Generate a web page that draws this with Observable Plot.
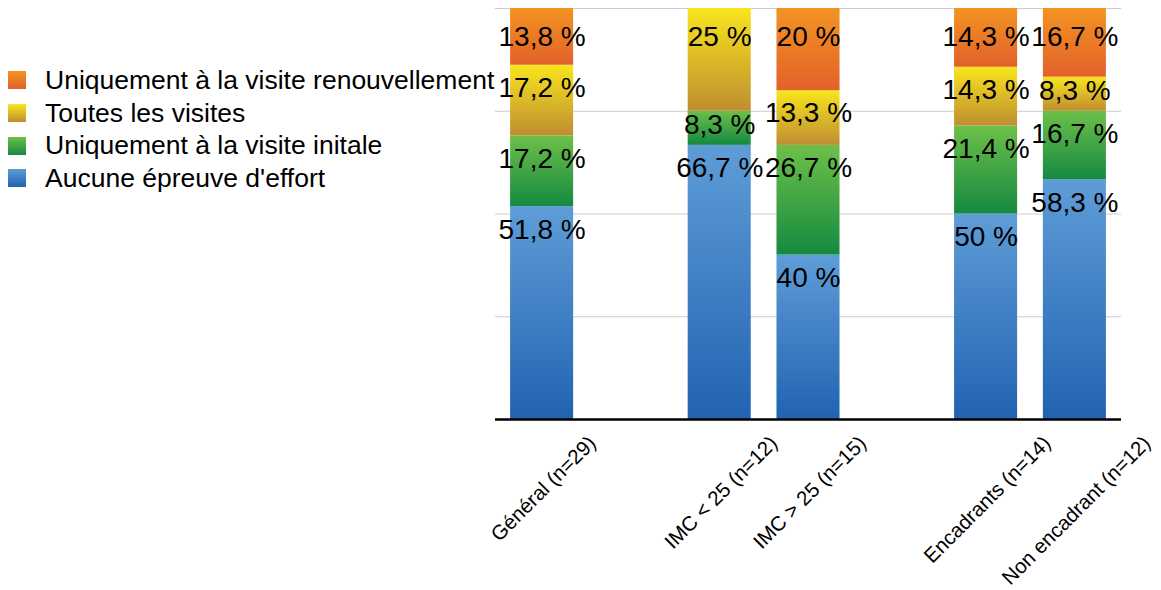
<!DOCTYPE html>
<html lang="fr">
<head>
<meta charset="utf-8">
<script src="https://cdn.jsdelivr.net/npm/d3@7"></script>
<script src="https://cdn.jsdelivr.net/npm/@observablehq/plot@0.6"></script>
<style>
  body { margin: 0; background: #fff; font-family: "Liberation Sans", Arial, Helvetica, sans-serif; }
  #chart { position: relative; width: 1161px; height: 590px; }
  #chart svg { position: absolute; left: 0; top: 0; }
  #legend { position: absolute; left: 8px; top: 64px; }
  .row { display: flex; align-items: center; height: 32.7px; font-size: 26.5px; color: #000; white-space: nowrap; }
  .sw { width: 18px; height: 18px; margin-right: 19px; flex: none; }
</style>
</head>
<body>
<div id="chart"><div id="legend"></div></div>
<script>
// Groups shown under the bars, and the band slots (two empty slots separate the comparisons)
const groups = ["Général (n=29)", "IMC < 25 (n=12)", "IMC > 25 (n=15)", "Encadrants (n=14)", "Non encadrant (n=12)"];
const slots = ["Général (n=29)", "·1", "IMC < 25 (n=12)", "IMC > 25 (n=15)", "·2", "Encadrants (n=14)", "Non encadrant (n=12)"];

// Series, stacked from bottom to top
const series = ["Aucune épreuve d'effort", "Uniquement à la visite initale", "Toutes les visites", "Uniquement à la visite renouvellement"];

// Percentages per group, one array per series
const aucune = [51.8, 66.7, 40, 50, 58.3];
const initiale = [17.2, 8.3, 26.7, 21.4, 16.7];
const toutes = [17.2, 25, 13.3, 14.3, 8.3];
const renouvellement = [13.8, 0, 20, 14.3, 16.7];

// Vertical gradient (top, bottom) for each series
const gradientTops = ["#5e9dd7", "#6dc049", "#f8e51d", "#f39422"];
const gradientBottoms = ["#2163b1", "#158941", "#bf8e31", "#e2612a"];

const seriesValues = [aucune, initiale, toutes, renouvellement];
const rows = [];
groups.forEach((g, gi) => {
  series.forEach((s, si) => rows.push({group: g, series: s, value: seriesValues[si][gi]}));
});

// Value labels sit near the top of each segment
const labelRows = [];
groups.forEach((g, gi) => {
  let top = 0;
  series.forEach((s, si) => {
    const v = seriesValues[si][gi];
    top += v;
    if (v <= 0) return;
    const off = top >= 99.9 ? 7 : Math.min(5.6, v * 0.4);
    labelRows.push({group: g, y: top - off, text: `${String(v).replace(".", ",")} %`});
  });
});

const gradIds = series.map((_, i) => `seg-grad-${i}`);

function gradientDefs() {
  const defs = d3.create("svg:defs");
  gradIds.forEach((id, i) => {
    const lg = defs.append("linearGradient").attr("id", id).attr("x1", 0).attr("y1", 0).attr("x2", 0).attr("y2", 1);
    lg.append("stop").attr("offset", "0%").attr("stop-color", gradientTops[i]);
    lg.append("stop").attr("offset", "100%").attr("stop-color", gradientBottoms[i]);
  });
  return defs.node();
}

// Width of a rotated tick label, to centre it under its bar
const tickFont = 20.5;
const measureCtx = document.createElement("canvas").getContext("2d");
measureCtx.font = `${tickFont}px 'Liberation Sans', Arial, sans-serif`;

const chart = Plot.plot({
  width: 1161,
  height: 590,
  marginLeft: 495,
  marginRight: 40,
  marginTop: 8,
  marginBottom: 171,
  style: {fontFamily: "'Liberation Sans', Arial, Helvetica, sans-serif", background: "transparent"},
  x: {domain: slots, paddingInner: 0.29, paddingOuter: 0.17, round: false, axis: null},
  y: {domain: [0, 100], axis: null},
  color: {type: "ordinal", domain: series, range: gradIds.map((id) => `url(#${id})`)},
  marks: [
    gradientDefs,
    Plot.ruleY([25, 50, 75, 100], {stroke: "#cccccc", strokeWidth: 1}),
    Plot.barY(rows, Plot.stackY({x: "group", y: "value", fill: "series", order: series})),
    Plot.ruleY([0], {stroke: "#000", strokeWidth: 2.5}),
    Plot.text(labelRows, {x: "group", y: "y", text: "text", fontSize: 28, fill: "#000"}),
    Plot.text(groups, {
      x: (d) => d,
      text: (d) => d,
      frameAnchor: "bottom",
      dy: 25,
      rotate: -45,
      textAnchor: "end",
      lineAnchor: "bottom",
      fontSize: tickFont,
      fill: "#000",
      render(index, scales, values, dimensions, context, next) {
        const g = next(index, scales, values, dimensions, context);
        g.querySelectorAll("text").forEach((t, k) => {
          const label = groups[index[k]];
          const shift = measureCtx.measureText(label).width * Math.SQRT1_2 / 2 + 6;
          const tr = t.getAttribute("transform") || "";
          t.setAttribute("transform", tr.replace(/translate\(([^,]+),([^)]+)\)/, (m, x, y) => `translate(${+x + shift},${y})`));
        });
        return g;
      }
    })
  ]
});

const host = document.getElementById("chart");
host.insertBefore(chart, host.firstChild);

// Legend, top series first
const legend = d3.select("#legend");
series.slice().reverse().forEach((s) => {
  const i = series.indexOf(s);
  const row = legend.append("div").attr("class", "row");
  row.append("div").attr("class", "sw")
    .style("background", `linear-gradient(to bottom, ${gradientTops[i]}, ${gradientBottoms[i]})`);
  row.append("span").text(s);
});
</script>
</body>
</html>
